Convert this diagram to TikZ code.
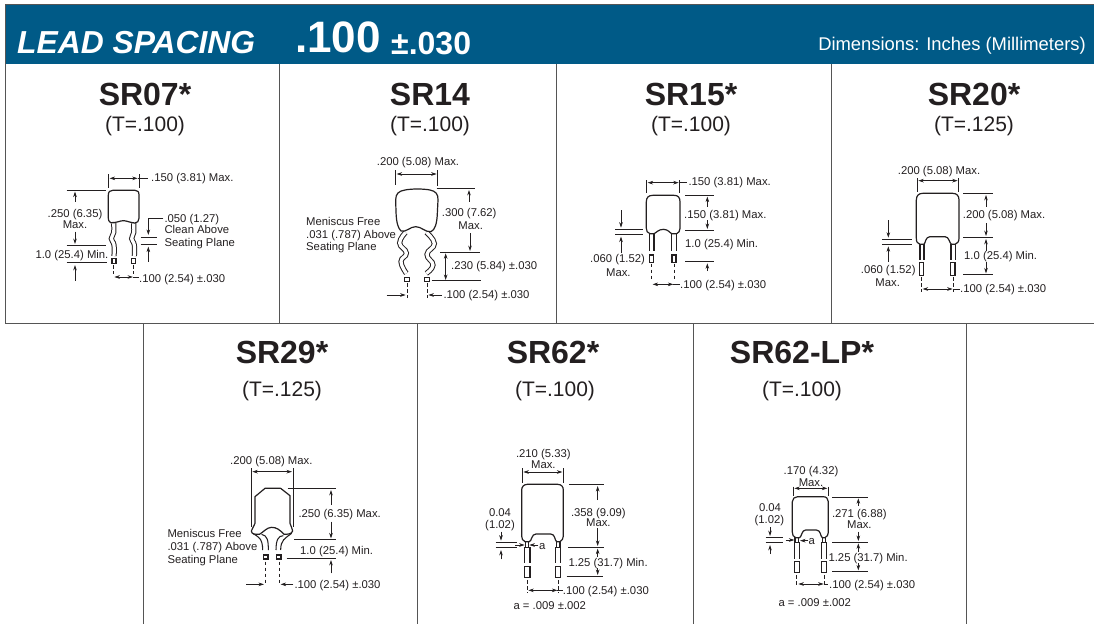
\documentclass[tikz,border=0pt]{standalone}
\usepackage{fontspec}
\setmainfont{Liberation Sans}
\usetikzlibrary{arrows.meta}
\definecolor{hdr}{HTML}{005A87}
\definecolor{ink}{HTML}{231F20}
\definecolor{rule}{HTML}{555555}
\newcounter{txc}
\tikzset{
  txt/.style={inner sep=0pt,text=ink,font=\fontsize{11.3}{13}\selectfont},
  ln/.style={line width=0.65pt,draw=ink},
  ar/.style={ln,-{Stealth[length=5.5pt,width=3.6pt]}},
  dar/.style={ln,{Stealth[length=5.5pt,width=3.6pt]}-{Stealth[length=5.5pt,width=3.6pt]}},
  dsh/.style={ln,dash pattern=on 3.5pt off 2.5pt},
  body/.style={line width=1.2pt,draw=ink,fill=white,line join=round},
  lead/.style={line width=1.05pt,draw=ink},
  wv/.style={line width=1pt,draw=ink,double=white,double distance=3.2pt},
  frame/.style={line width=0.9pt,draw=rule},
  ttl/.style={inner sep=0pt,text=ink,font=\fontsize{32}{34}\bfseries\selectfont,anchor=base},
  sub/.style={inner sep=0pt,text=ink,font=\fontsize{21}{23}\selectfont,anchor=base},
  hd/.style={inner sep=0pt,text=white,anchor=base west},
  zoomed/.style={shift={#1},x=0.33333pt,y=-0.33333pt}
}
\newcommand\Tx[3]{\stepcounter{txc}\node[txt,anchor=base west,yshift=-3.9pt,name=tx\arabic{txc}] at (#1,#2) {#3};}
\newcommand\Tc[3]{\stepcounter{txc}\node[txt,anchor=base,yshift=-3.9pt,name=tx\arabic{txc}] at (#1,#2) {#3};}
\newcommand\SL[4]{\draw[lead] (#1,#3) -- (#1,#4) (#2,#3) -- (#2,#4);}
\newcommand\Bx[4]{\draw[lead] (#1,#3) rectangle (#2,#4);}
\begin{document}
\begin{tikzpicture}[x=1pt,y=-1pt]
\useasboundingbox (0,0) rectangle (1094,624);
% header
\fill[hdr] (5,4) rectangle (1094,64);
\draw[frame] (1094,4) -- (5,4) -- (5,323);
\draw[frame] (5,323) -- (1094,323);
\foreach \xx in {279,556,831} \draw[frame] (\xx,64) -- (\xx,323);
\foreach \xx in {143,417,693,966} \draw[frame] (\xx,323) -- (\xx,624);
\node[hd,name=h1,font=\fontsize{31.8}{34}\bfseries\itshape\selectfont] at (17,53) {LEAD SPACING};
\node[hd,name=h2,font=\fontsize{44}{46}\bfseries\selectfont] at (295,52) {.100};
\node[hd,name=h3,font=\fontsize{32}{34}\bfseries\selectfont] at (391,54) {±.030};
\node[hd,name=h4,anchor=base east,font=\fontsize{18.4}{20}\selectfont] at (1086,50) {Dimensions: Inches (Millimeters)};
% titles
\node[ttl,name=n1] at (145,105) {SR07*};
\node[sub,name=s1] at (145,131) {(T=.100)};
\node[ttl,name=n2] at (430,105) {SR14};
\node[sub,name=s2] at (430,131) {(T=.100)};
\node[ttl,name=n3] at (691,105) {SR15*};
\node[sub,name=s3] at (691,131) {(T=.100)};
\node[ttl,name=n4] at (974,105) {SR20*};
\node[sub,name=s4] at (974,131) {(T=.125)};
\node[ttl,name=n5] at (282,363) {SR29*};
\node[sub,name=s5] at (282,396) {(T=.125)};
\node[ttl,name=n6] at (553,363) {SR62*};
\node[sub,name=s6] at (555,396) {(T=.100)};
\node[ttl,name=n7] at (802,363) {SR62-LP*};
\node[sub,name=s7] at (802,396) {(T=.100)};
% ---------- SR07
\begin{scope}[zoomed={(20,150)}]
\draw[wv] plot[smooth,tension=0.8] coordinates {(281,220) (281,248) (274,266) (282,285) (282,318)};
\draw[wv] plot[smooth,tension=0.8] coordinates {(341,220) (341,248) (335,266) (343,285) (343,318)};
\draw[body] (272,218) .. controls (266,214) and (265,210) .. (265,205) -- (265,135) .. controls (265,125) and (270,121) .. (278,121) -- (345,121) .. controls (353,121) and (357,125) .. (357,135) -- (357,205) .. controls (357,214) and (352,218) .. (345,219) .. controls (330,218) and (320,212) .. (310,212) .. controls (300,212) and (290,219) .. (272,218);
\Bx{276}{288}{326}{340}\Bx{335}{347}{326}{340}
\draw[dsh] (281,345) -- (281,372); \draw[dsh] (341,345) -- (341,372);
\draw[ln] (265,72) -- (265,115) (357,72) -- (357,115);
\draw[dar] (269,85) -- (353,85); \draw[ln] (353,85) -- (385,85);
\Tx{393}{82}{.150 (3.81) Max.}
\draw[ln] (140,120) -- (258,120); \draw[ar] (165,155) -- (165,125);
\Tc{165}{192}{.250 (6.35)}\Tc{165}{223}{Max.}
\draw[ar] (165,245) -- (165,282);
\draw[ln] (140,285) -- (258,285); \draw[ln] (140,337) -- (262,337);
\draw[ar] (165,392) -- (165,345);
\Tx{46}{313}{1.0 (25.4) Min.}
\draw[ln] (430,205) -- (385,205); \draw[ar] (385,205) -- (385,255);
\draw[ln] (362,263) -- (412,263) (362,284) -- (412,284);
\draw[ar] (385,335) -- (385,290);
\Tx{433}{205}{.050 (1.27)}\Tx{433}{240}{Clean Above}\Tx{433}{277}{Seating Plane}
\draw[dar] (283,381) -- (339,381); \draw[ln] (339,381) -- (357,381);
\Tx{357}{385}{.100 (2.54) ±.030}
\end{scope}
% ---------- SR14
\begin{scope}[zoomed={(295,145)}]
\draw[wv] plot[smooth,tension=0.8] coordinates {(332,262) (314,294) (334,324) (318,350) (334,385)};
\draw[wv] plot[smooth,tension=0.8] coordinates {(394,262) (418,296) (396,328) (414,360) (394,385)};
\draw[body] (318,258) .. controls (310,250) and (304,235) .. (303,200) -- (302,165) .. controls (302,145) and (312,138) .. (330,135) .. controls (350,131) and (385,131) .. (405,135) .. controls (422,138) and (430,148) .. (429,165) -- (427,205) .. controls (426,235) and (420,255) .. (408,260) .. controls (390,262) and (380,245) .. (362,245) .. controls (345,245) and (335,262) .. (318,258) -- cycle;
\Bx{328}{343}{397}{410}\Bx{388}{403}{397}{410}
\draw[dsh] (336,415) -- (336,460); \draw[dsh] (396,415) -- (396,460);
\draw[ar] (275,450) -- (332,450); \draw[ar] (440,450) -- (400,450);
\Tx{445}{450}{.100 (2.54) ±.030}
\Tx{245}{50}{.200 (5.08) Max.}
\draw[ln] (302,75) -- (302,120) (428,75) -- (428,122);
\draw[dar] (305,87) -- (425,87);
\draw[ln] (425,130) -- (540,130); \draw[ar] (522,170) -- (522,135);
\Tx{440}{203}{.300 (7.62)}\Tc{527}{243}{Max.}
\draw[ar] (525,265) -- (525,318);
\draw[ln] (435,321) -- (555,321);
\draw[dar] (452,325) -- (452,405);
\draw[ln] (410,407) -- (557,407);
\Tx{468}{362}{.230 (5.84) ±.030}
\Tx{33}{231}{Meniscus Free}\Tx{33}{270}{.031 (.787) Above}\Tx{33}{306}{Seating Plane}
\end{scope}
% ---------- SR15
\begin{scope}[zoomed={(580,165)}]
\SL{208}{222}{206}{258}\SL{275}{290}{206}{258}
\draw[body] (210,206) .. controls (202,204) and (199,198) .. (199,190) -- (199,110) .. controls (199,97) and (206,91) .. (218,91) -- (282,91) .. controls (294,91) and (300,97) .. (300,110) -- (300,190) .. controls (300,198) and (296,204) .. (290,206) -- (275,206) .. controls (270,204) and (265,193) .. (250,193) .. controls (235,193) and (228,204) .. (222,206) -- cycle;
\Bx{208}{220}{270}{292}\Bx{276}{288}{270}{292}
\draw[dsh] (214,296) -- (214,345); \draw[dsh] (282,296) -- (282,345);
\draw[dar] (218,358) -- (280,358); \draw[ln] (280,358) -- (300,358);
\Tx{300}{360}{.100 (2.54) ±.030}
\draw[ln] (199,45) -- (199,85) (299,45) -- (299,85);
\draw[dar] (203,53) -- (296,53); \draw[ln] (296,53) -- (322,53);
\Tx{325}{50}{.150 (3.81) Max.}
\draw[ln] (315,91) -- (402,91); \draw[ar] (382,125) -- (382,95);
\Tx{312}{148}{.150 (3.81) Max.}
\draw[ar] (382,165) -- (382,192);
\draw[ln] (315,196) -- (402,196);
\Tx{315}{237}{1.0 (25.4) Min.}
\draw[ln] (315,289) -- (402,289); \draw[ar] (382,318) -- (382,295);
\draw[ar] (123,135) -- (123,188);
\draw[ln] (105,194) -- (188,194) (105,209) -- (188,209);
\draw[ar] (123,265) -- (123,215);
\Tx{30}{282}{.060 (1.52)}\Tc{115}{322}{Max.}
\end{scope}
% ---------- SR20
\begin{scope}[zoomed={(850,155)}]
\SL{210}{222}{268}{315}\SL{303}{317}{268}{315}
\draw[body] (210,268) .. controls (202,266) and (199,260) .. (199,250) -- (199,135) .. controls (199,122) and (206,115) .. (218,115) -- (308,115) .. controls (320,115) and (327,122) .. (327,135) -- (327,250) .. controls (327,260) and (322,266) .. (315,268) -- (305,268) .. controls (298,266) and (298,245) .. (285,245) -- (240,245) .. controls (226,245) and (226,266) .. (222,268) -- cycle;
\Bx{208}{220}{322}{362}\Bx{302}{315}{322}{362}
\draw[dsh] (214,367) -- (214,410); \draw[dsh] (310,367) -- (310,410);
\draw[dar] (218,402) -- (308,402); \draw[ln] (308,402) -- (330,402);
\Tx{330}{402}{.100 (2.54) ±.030}
\Tx{143}{48}{.200 (5.08) Max.}
\draw[ln] (202,70) -- (202,110) (326,70) -- (326,110);
\draw[dar] (205,77) -- (323,77);
\draw[ln] (340,115) -- (430,115); \draw[ar] (408,155) -- (408,120);
\Tx{338}{180}{.200 (5.08) Max.}
\draw[ar] (408,205) -- (408,243);
\draw[ln] (340,247) -- (430,247);
\draw[ar] (408,287) -- (408,252);
\Tx{342}{302}{1.0 (25.4) Min.}
\draw[ar] (408,322) -- (408,355);
\draw[ln] (340,358) -- (430,358);
\draw[ar] (115,195) -- (115,248);
\draw[ln] (97,254) -- (187,254) (97,268) -- (187,268);
\draw[ar] (115,320) -- (115,274);
\Tx{32}{345}{.060 (1.52)}\Tc{113}{382}{Max.}
\end{scope}
% ---------- SR29
\begin{scope}[zoomed={(160,445)}]
\draw[lead] (278,265) .. controls (295,275) and (308,280) .. (308,315);
\draw[lead] (305,268) .. controls (322,272) and (325,285) .. (325,315);
\draw[lead] (370,272) .. controls (355,272) and (348,285) .. (348,315);
\draw[lead] (395,265) .. controls (375,280) and (362,285) .. (362,315);
\draw[body] (285,155) -- (315,130) -- (362,130) -- (390,152) -- (390,235) .. controls (390,245) and (400,250) .. (398,258) .. controls (395,268) and (380,268) .. (372,268) .. controls (360,255) and (350,247) .. (335,247) .. controls (320,247) and (310,262) .. (298,268) .. controls (285,268) and (275,268) .. (274,258) .. controls (274,250) and (284,245) .. (285,235) -- cycle;
\Bx{310}{324}{330}{342}\Bx{349}{363}{330}{342}
\draw[dsh] (317,350) -- (317,420); \draw[dsh] (357,350) -- (357,420);
\draw[ar] (258,418) -- (312,418); \draw[ar] (400,418) -- (362,418);
\Tx{403}{418}{.100 (2.54) ±.030}
\Tx{210}{48}{.200 (5.08) Max.}
\draw[ln] (273,70) -- (273,245) (400,70) -- (400,245);
\draw[dar] (277,80) -- (396,80);
\draw[ln] (383,130) -- (528,130); \draw[ar] (513,180) -- (513,135);
\Tx{415}{207}{.250 (6.35) Max.}
\draw[ar] (513,230) -- (513,280);
\draw[ln] (403,284) -- (528,284);
\Tx{420}{318}{1.0 (25.4) Min.}
\draw[ln] (380,341) -- (528,341); \draw[ar] (513,385) -- (513,345);
\Tx{22}{267}{Meniscus Free}\Tx{22}{304}{.031 (.787) Above}\Tx{22}{343}{Seating Plane}
\end{scope}
% ---------- SR62
\begin{scope}[zoomed={(480,440)}]
\SL{136}{146}{302}{322}\SL{230}{240}{302}{322}
\SL{134}{150}{322}{370}\SL{226}{242}{322}{370}
\draw[lead] (134,322) -- (150,322) (226,322) -- (242,322);
\draw[body] (135,305) .. controls (128,302) and (125,296) .. (125,288) -- (125,150) .. controls (125,140) and (132,133) .. (142,133) -- (233,133) .. controls (244,133) and (250,140) .. (250,150) -- (250,288) .. controls (250,296) and (246,302) .. (240,305) -- (230,305) .. controls (224,302) and (226,282) .. (212,282) -- (168,282) .. controls (154,282) and (156,302) .. (148,305) -- cycle;
\Bx{134}{150}{380}{412}\Bx{226}{242}{380}{412}
\draw[dsh] (142,420) -- (142,460); \draw[dsh] (234,420) -- (234,460);
\draw[dar] (145,451) -- (232,451); \draw[ln] (232,451) -- (248,451);
\Tx{248}{451}{.100 (2.54) ±.030}
\Tx{100}{498}{a = .009 ±.002}
\Tc{190}{40}{.210 (5.33)}\Tc{190}{75}{Max.}
\draw[ln] (127,85) -- (127,130) (250,85) -- (250,130);
\draw[dar] (130,96) -- (247,96);
\draw[ln] (267,133) -- (373,133); \draw[ar] (353,180) -- (353,138);
\Tc{355}{217}{.358 (9.09)}\Tc{355}{247}{Max.}
\draw[ar] (353,265) -- (353,318);
\draw[ln] (265,322) -- (373,322);
\draw[ar] (353,350) -- (353,326);
\Tx{265}{367}{1.25 (31.7) Min.}
\draw[ar] (353,385) -- (353,405);
\draw[ln] (260,409) -- (370,409);
\Tc{60}{218}{0.04}\Tc{60}{255}{(1.02)}
\draw[ar] (63,275) -- (63,302);
\draw[ln] (47,307) -- (110,307) (47,323) -- (110,323);
\draw[ar] (63,358) -- (63,330);
\draw[ar] (105,315) -- (134,315); \draw[ar] (175,315) -- (148,315);
\Tx{177}{317}{a}
\end{scope}
% ---------- SR62-LP
\begin{scope}[zoomed={(745,455)}]
\SL{150}{160}{245}{262}\SL{232}{242}{245}{262}
\SL{148}{164}{262}{312}\SL{229}{245}{262}{312}
\draw[lead] (148,262) -- (164,262) (229,262) -- (245,262);
\draw[body] (152,248) .. controls (145,245) and (142,240) .. (142,232) -- (142,140) .. controls (142,131) and (149,125) .. (158,125) -- (234,125) .. controls (244,125) and (250,131) .. (250,140) -- (250,232) .. controls (250,240) and (246,245) .. (240,248) -- (232,248) .. controls (226,245) and (228,225) .. (214,225) -- (182,225) .. controls (170,225) and (170,245) .. (164,248) -- cycle;
\Bx{148}{163}{320}{352}\Bx{230}{245}{320}{352}
\draw[dsh] (155,360) -- (155,395); \draw[dsh] (238,360) -- (238,395);
\draw[dar] (160,387) -- (236,387); \draw[ln] (236,387) -- (250,387);
\Tx{252}{390}{.100 (2.54) ±.030}
\Tx{100}{442}{a = .009 ±.002}
\Tc{198}{48}{.170 (4.32)}\Tc{198}{83}{Max.}
\draw[ln] (145,95) -- (145,122) (250,95) -- (250,122);
\draw[dar] (148,100) -- (247,100);
\draw[ln] (262,127) -- (368,127); \draw[ar] (340,152) -- (340,130);
\Tc{343}{177}{.271 (6.88)}\Tc{343}{210}{Max.}
\draw[ar] (340,230) -- (340,258);
\draw[ln] (262,262) -- (370,262);
\draw[ar] (340,290) -- (340,265);
\Tx{250}{307}{1.25 (31.7) Min.}
\draw[ar] (340,325) -- (340,346);
\draw[ln] (262,349) -- (368,349);
\Tc{75}{158}{0.04}\Tc{73}{195}{(1.02)}
\draw[ar] (75,217) -- (75,243);
\draw[ln] (62,247) -- (115,247) (62,263) -- (115,263);
\draw[ar] (75,297) -- (75,270);
\draw[ar] (122,255) -- (148,255); \draw[ar] (190,257) -- (165,257);
\Tx{190}{257}{a}
\end{scope}
\end{tikzpicture}
\end{document}
